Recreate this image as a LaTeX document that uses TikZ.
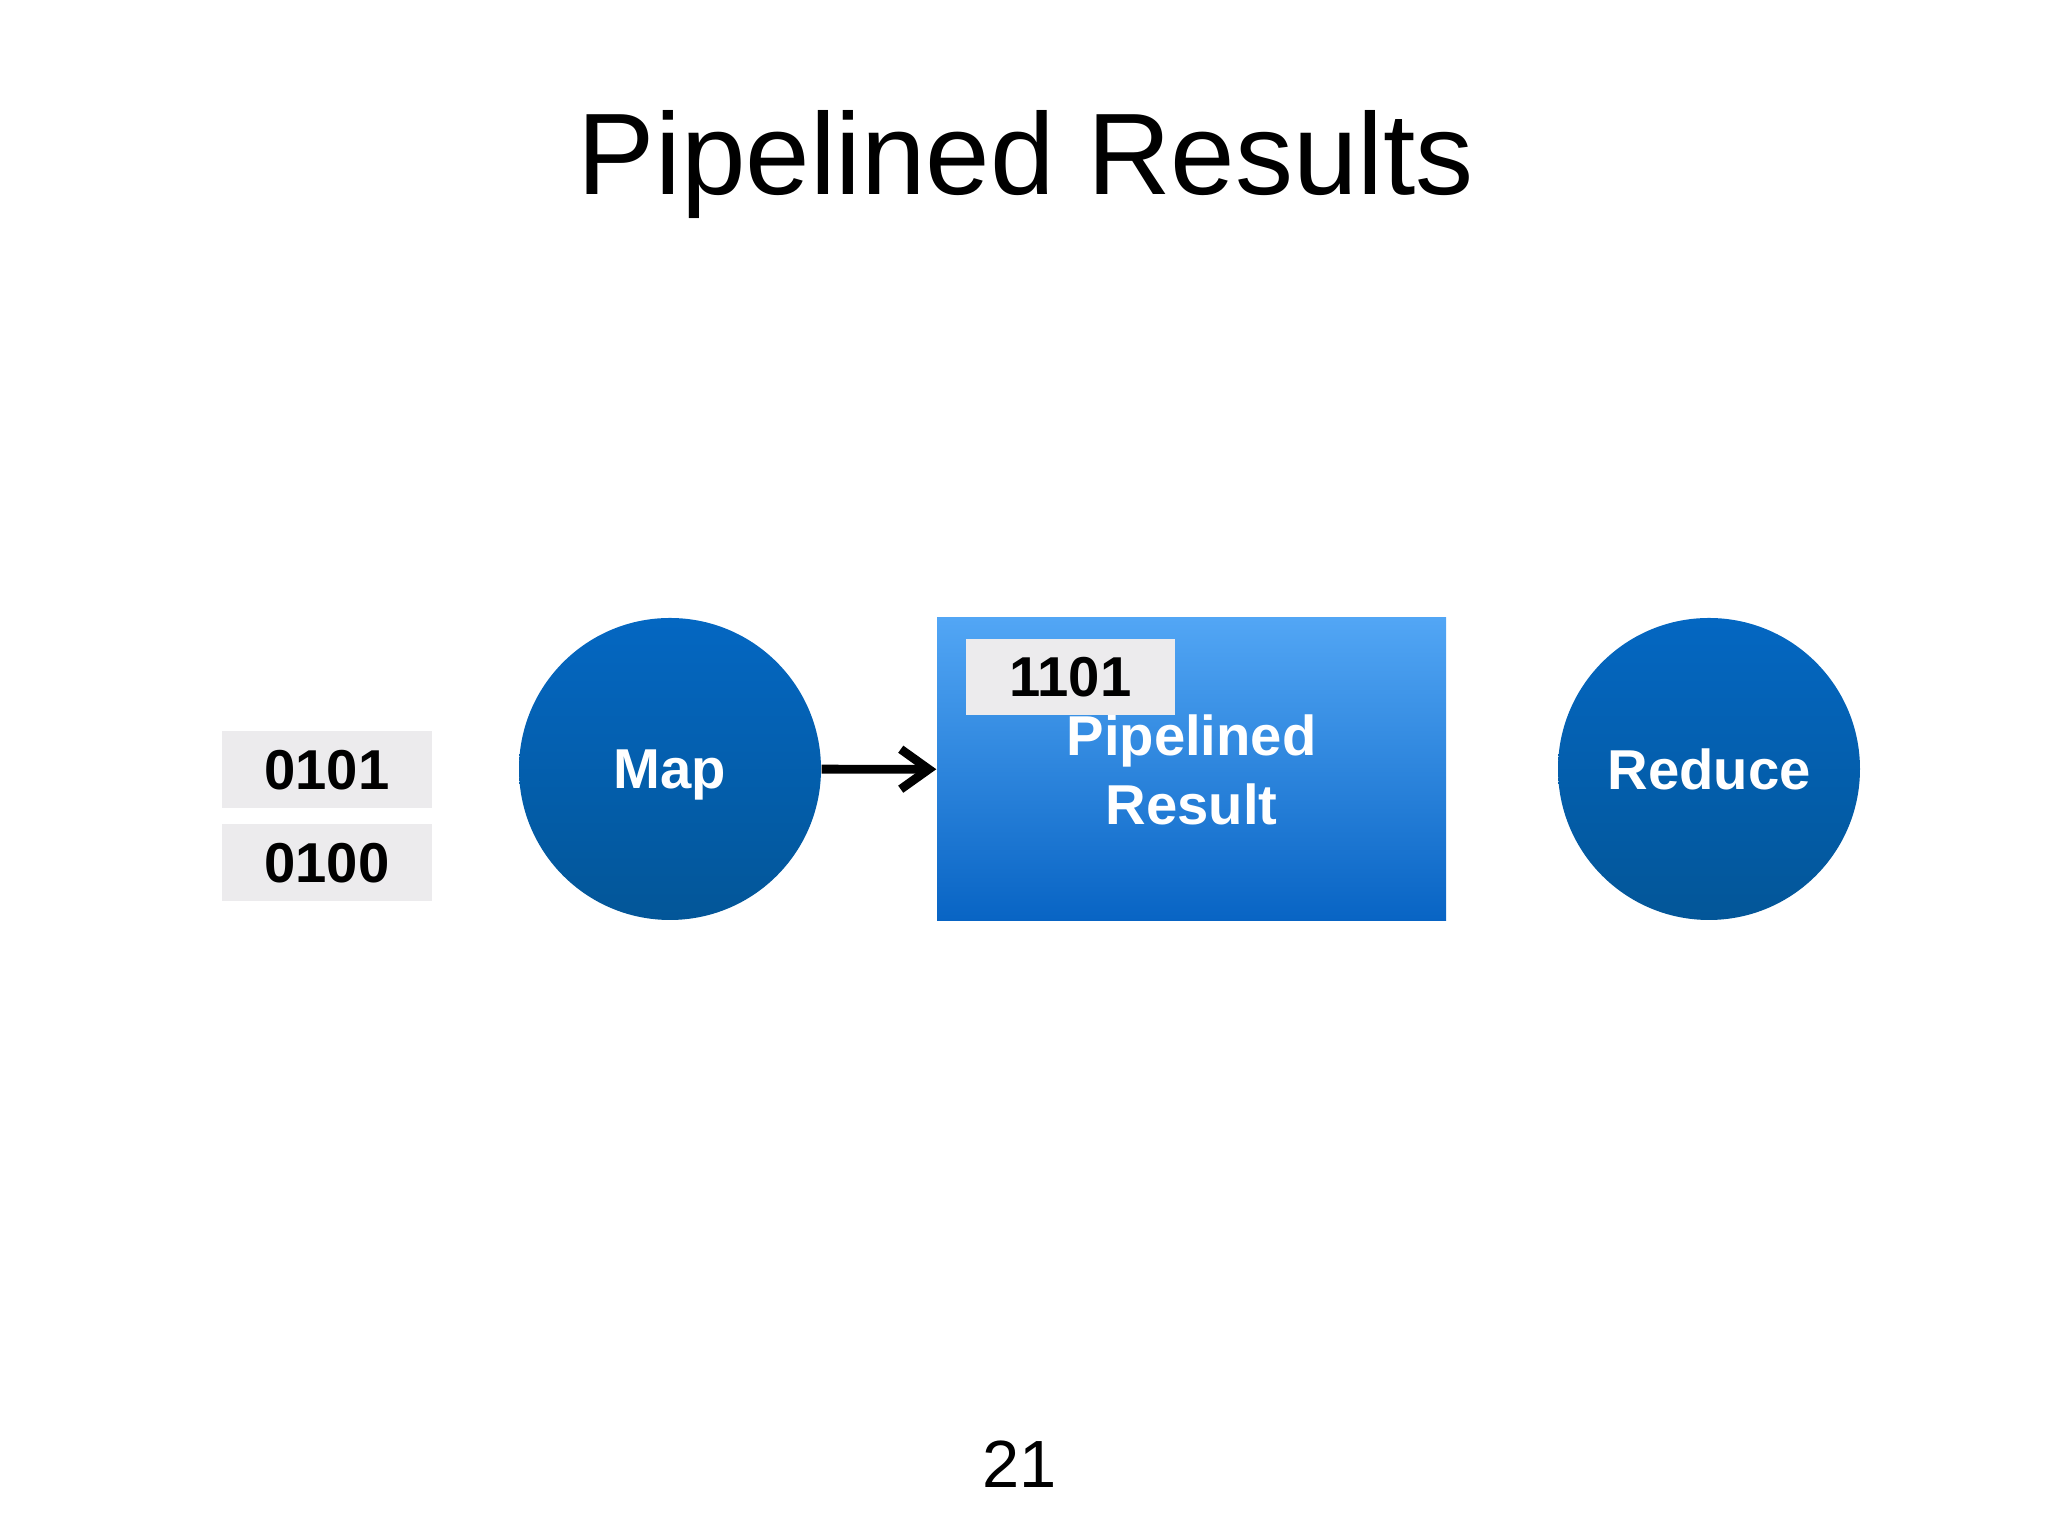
\documentclass[tikz,border=0pt]{standalone}
\usepackage{fontspec}
\setmainfont{Liberation Sans}
\usetikzlibrary{arrows.meta}
\definecolor{stagetop}{RGB}{4,103,194}
\definecolor{stagebot}{RGB}{3,86,152}
\definecolor{buftop}{RGB}{82,166,245}
\definecolor{bufbot}{RGB}{8,100,196}
\definecolor{bitgray}{RGB}{236,235,237}

\begin{document}
\begin{tikzpicture}[stage/.style={circle,minimum size=3.02cm,inner sep=0pt,text depth=0pt,top color=stagetop,bottom color=stagebot,text=white,font=\fontsize{16}{19}\selectfont\bfseries},
		bits/.style={fill=bitgray,minimum width=2.1cm,minimum height=0.77cm,inner sep=0pt,text depth=0pt,font=\fontsize{16}{19}\selectfont\bfseries}]
				\useasboundingbox (0,0) rectangle (20.48,15.36);
				\node [font=\fontsize{33}{40}\selectfont,anchor=base] (title) at (10.26,13.41) {Pipelined Results};
				% input words
				\node [bits] (in1) at (3.27,7.665) {0101};
				\node [bits] (in2) at (3.27,6.735) {0100};
				% stages
				\node [stage] (map) at (6.70,7.67) {Map};
				\node [stage] (reduce) at (17.09,7.67) {Reduce};
				\node [minimum width=5.09cm,minimum height=3.03cm,inner sep=0pt,top color=buftop,bottom color=bufbot,text=white,align=center,font=\fontsize{16}{19.6}\selectfont\bfseries] (buf) at (11.915,7.665) {Pipelined\\Result};
				\node [bits,minimum width=2.09cm,minimum height=0.76cm] (out1) at (10.705,8.59) {1101};
				\draw [line width=2.5pt,-{Straight Barb[length=2.8mm,width=4mm]}] (map) -- (buf);
				\node [font=\fontsize{19}{23}\selectfont,anchor=base] (page) at (10.20,0.48) {21};
			\end{tikzpicture}
\end{document}
